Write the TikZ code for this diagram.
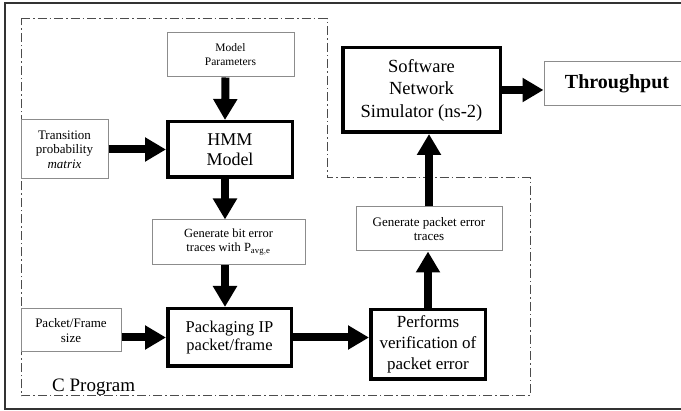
\documentclass[tikz,border=0pt]{standalone}
\usepackage{fontspec}
\setmainfont{Liberation Serif}
\usetikzlibrary{arrows.meta}

\tikzset{
  thinbox/.style={draw=black!45, line width=1pt, fill=white, inner sep=0pt,
    align=center, font=\fontsize{13}{14.5}\selectfont},
  thickbox/.style={draw=black, line width=3.5pt, fill=white, inner sep=0pt,
    align=center},
  flow/.style={line width=8pt, -{Triangle[length=21pt,width=23pt]}},
  region/.style={draw=black!70, line width=1pt,
    dash pattern=on 9pt off 3pt on 1.5pt off 3pt},
}

\begin{document}
\begin{tikzpicture}[x=1pt,y=-1pt]
\useasboundingbox (0,0) rectangle (681,411);

% frame round the whole figure
\draw[black!80, line width=1.5pt] (5,3) rectangle (700,409);

% outline of the part written in C
\draw[region] (21,19) -- (327,19) -- (327,178) -- (530,178) -- (530,396)
  -- (21,396) -- cycle;
\node[anchor=base west, font=\fontsize{19}{22}\selectfont, inner sep=0pt]
  (cprog) at (52,392) {C Program};

% blocks
\node[thinbox, minimum width=127pt, minimum height=44pt,
  font=\fontsize{11.5}{14}\selectfont] (mp) at (230.5,55) {Model\\Parameters};
\node[thickbox, minimum width=124.5pt, minimum height=55.5pt,
  font=\fontsize{18}{20}\selectfont] (hmm) at (230,149.5) {HMM\\Model};
\node[thinbox, minimum width=87pt, minimum height=59pt] (tpm) at (64.5,149.5)
  {Transition\\probability\\\textit{matrix}};
\node[thinbox, minimum width=153pt, minimum height=45pt,
  font=\fontsize{12.5}{14}\selectfont] (gbe) at (228.5,242.5)
  {Generate bit error\\traces with P$_{\mathrm{avg,e}}$};
\node[thickbox, minimum width=123.5pt, minimum height=57.5pt,
  font=\fontsize{16.5}{18.5}\selectfont] (pkg) at (229.5,337.5)
  {Packaging IP\\packet/frame};
\node[thinbox, minimum width=100pt, minimum height=43pt] (pfs) at (71,330.5)
  {Packet/Frame\\size};
\node[thickbox, minimum width=114.5pt, minimum height=69.5pt,
  font=\fontsize{17}{21}\selectfont] (perf) at (428,344.5)
  {Performs\\verification of\\packet error};
\node[thinbox, minimum width=146pt, minimum height=44pt] (gpe) at (429,229)
  {Generate packet error\\traces};
\node[thickbox, minimum width=157.5pt, minimum height=84.5pt,
  font=\fontsize{18.5}{22.5}\selectfont] (sim) at (421.5,90)
  {Software\\Network\\Simulator (ns-2)};
\node[thinbox, minimum width=146pt, minimum height=44pt,
  font=\bfseries\fontsize{20}{22}\selectfont] (thr) at (617,84) {Throughput};

% data flow
\draw[flow] ([xshift=-5pt]mp.south) -- ([xshift=-5pt]hmm.north);
\draw[flow] (tpm.east) -- (hmm.west);
\draw[flow] ([xshift=-5pt]hmm.south) -- ([xshift=-5pt]hmm.south |- gbe.north);
\draw[flow] ([xshift=-5pt]hmm.south |- gbe.south) -- ([xshift=-5pt]hmm.south |- pkg.north);
\draw[flow] (pfs.east |- pkg.west) -- (pkg.west);
\draw[flow] (pkg.east) -- (pkg.east -| perf.west);
\draw[flow] (perf.north) -- (perf.north |- gpe.south);
\draw[flow] (gpe.north) -- (gpe.north |- sim.south);
\draw[flow] (sim.east) -- (sim.east -| thr.west);
\end{tikzpicture}
\end{document}
